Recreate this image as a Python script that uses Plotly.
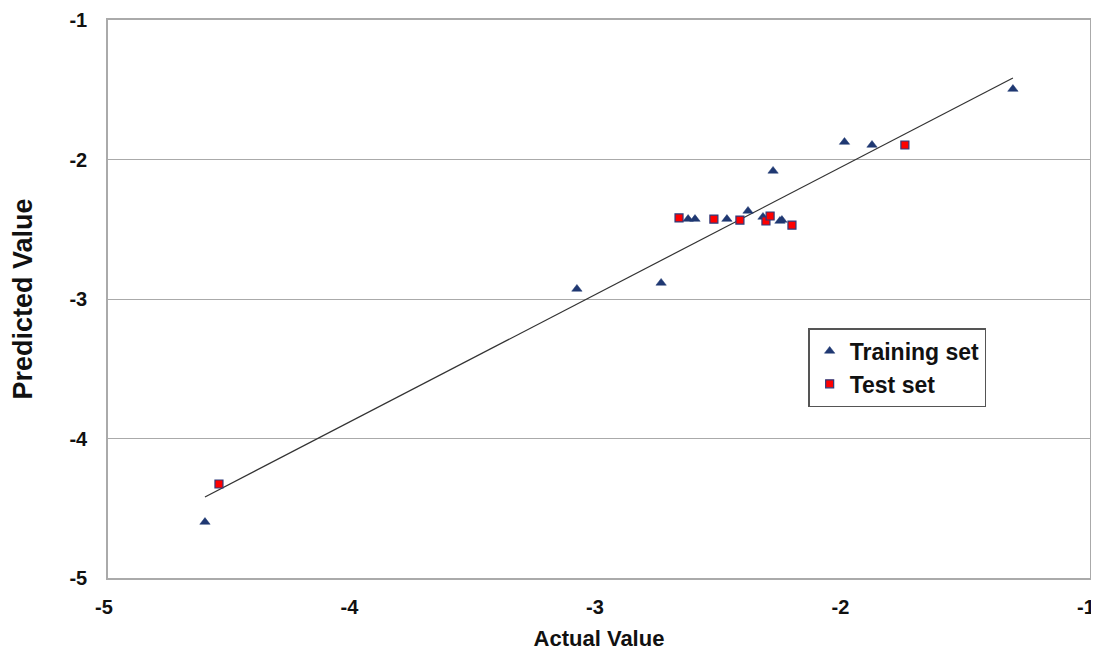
import plotly.graph_objects as go

# Training set
train_actual = [-1.314, -2.0, -1.888, -2.291, -3.09, -2.747, -4.605,
                -2.637, -2.609, -2.479, -2.393, -2.332, -2.263, -2.255]
train_pred = [-1.495, -1.875, -1.896, -2.082, -2.928, -2.885, -4.599,
              -2.427, -2.427, -2.427, -2.369, -2.412, -2.441, -2.434]

# Test set
test_actual = [-4.548, -1.754, -2.674, -2.532, -2.426, -2.32, -2.303, -2.214]
test_pred = [-4.326, -1.896, -2.419, -2.427, -2.434, -2.441, -2.405, -2.47]

# Trend line endpoints
trend_x = [-4.605, -1.314]
trend_y = [-4.419, -1.416]

x_ticks = [-5, -4, -3, -2, -1]
y_ticks = [-5, -4, -3, -2, -1]

fig = go.Figure()
fig.add_trace(go.Scatter(x=trend_x, y=trend_y, mode="lines",
                         line=dict(color="#333333", width=1.2),
                         showlegend=False, hoverinfo="skip"))
fig.add_trace(go.Scatter(x=train_actual, y=train_pred, mode="markers",
                         name="Training set",
                         marker=dict(symbol="triangle-up", size=9, color="#1F3872",
                                     line=dict(color="#1F3872", width=0.5))))
fig.add_trace(go.Scatter(x=test_actual, y=test_pred, mode="markers",
                         name="Test set",
                         marker=dict(symbol="square", size=8, color="#FF0000",
                                     line=dict(color="#2E3A7A", width=1.2))))

font_fam = "Liberation Sans, Arial, sans-serif"
fig.update_layout(
    width=1099, height=654,
    margin=dict(l=100, r=17, t=12, b=84, autoexpand=False),
    paper_bgcolor="white", plot_bgcolor="white",
    font=dict(family=font_fam, size=20, color="#111111"),
    legend=dict(x=0.713, y=0.448, xanchor="left", yanchor="top",
                bgcolor="white", bordercolor="#555555", borderwidth=1.5,
                font=dict(family=font_fam, size=23, color="#111111", weight="bold"),
                itemsizing="trace", tracegroupgap=6, itemwidth=30),
    showlegend=True,
)
fig.update_xaxes(range=[-5, -1], tickvals=x_ticks, ticktext=[str(v) for v in x_ticks],
                 showgrid=False, zeroline=False, showline=True, linecolor="#AAAAAA",
                 linewidth=1.5, mirror=True, ticks="", ticklabelstandoff=10,
                 ticklabelshift=-4, automargin=False,
                 tickfont=dict(family=font_fam, size=20, weight="bold"),
                 title=dict(text="<b>Actual Value</b>", standoff=14,
                            font=dict(family=font_fam, size=22)))
fig.update_yaxes(range=[-5, -1], tickvals=y_ticks, ticktext=[str(v) for v in y_ticks],
                 showgrid=True, gridcolor="#AAAAAA", gridwidth=1.2, zeroline=False,
                 showline=True, linecolor="#AAAAAA", linewidth=1.5, mirror=True,
                 ticks="", ticklabelstandoff=15, automargin=False,
                 tickfont=dict(family=font_fam, size=20, weight="bold"),
                 title=dict(text="<b>Predicted Value</b>", standoff=31,
                            font=dict(family=font_fam, size=27)))

fig.write_html("out.html")
